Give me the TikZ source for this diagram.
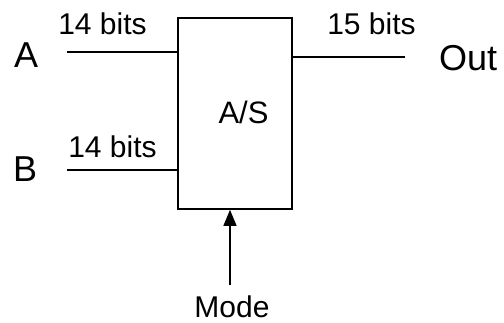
\documentclass[tikz,border=0pt]{standalone}
\usepackage{fontspec}
\setmainfont{Liberation Sans}
\usetikzlibrary{arrows.meta}
\begin{document}
\begin{tikzpicture}[x=1pt,y=-1pt,
  wire/.style={line width=1.3pt},
  blk/.style={draw, line width=1.6pt, minimum width=114pt, minimum height=191pt, inner sep=0pt},
  big/.style={font=\fontsize{36}{36}\selectfont, inner sep=0pt},
  lbl/.style={font=\fontsize{30}{30}\selectfont, inner sep=0pt, anchor=base},
]
\useasboundingbox (0,0) rectangle (504,322);
% block
\node[blk] (box) at (235,113.5) {};
\node[lbl, font=\fontsize{31}{31}\selectfont] (as) at (243.5,123) {A/S};
% port labels
\node[big, anchor=base west] (A) at (14,67) {A};
\node[big, anchor=base west] (B) at (13,181) {B};
\node[big, anchor=base west] (Out) at (439,70) {Out};
\node[lbl] (mode) at (232,317) {Mode};
% bit-width labels
\node[lbl] (bA) at (102.5,34) {14 bits};
\node[lbl] (bB) at (112.5,157) {14 bits};
\node[lbl] (bO) at (371.5,34) {15 bits};
% wires
\coordinate (ain) at (67,52);
\coordinate (bin) at (67,170);
\coordinate (oend) at (405,57);
\coordinate (mtail) at (230,285);
\draw[wire] (ain) -- (ain -| box.west);
\draw[wire] (bin) -- (bin -| box.west);
\draw[wire] (oend -| box.east) -- (oend);
\draw[wire, -{Triangle[length=16pt,width=13pt]}] (mtail) -- (mtail |- box.south);
\end{tikzpicture}
\end{document}
